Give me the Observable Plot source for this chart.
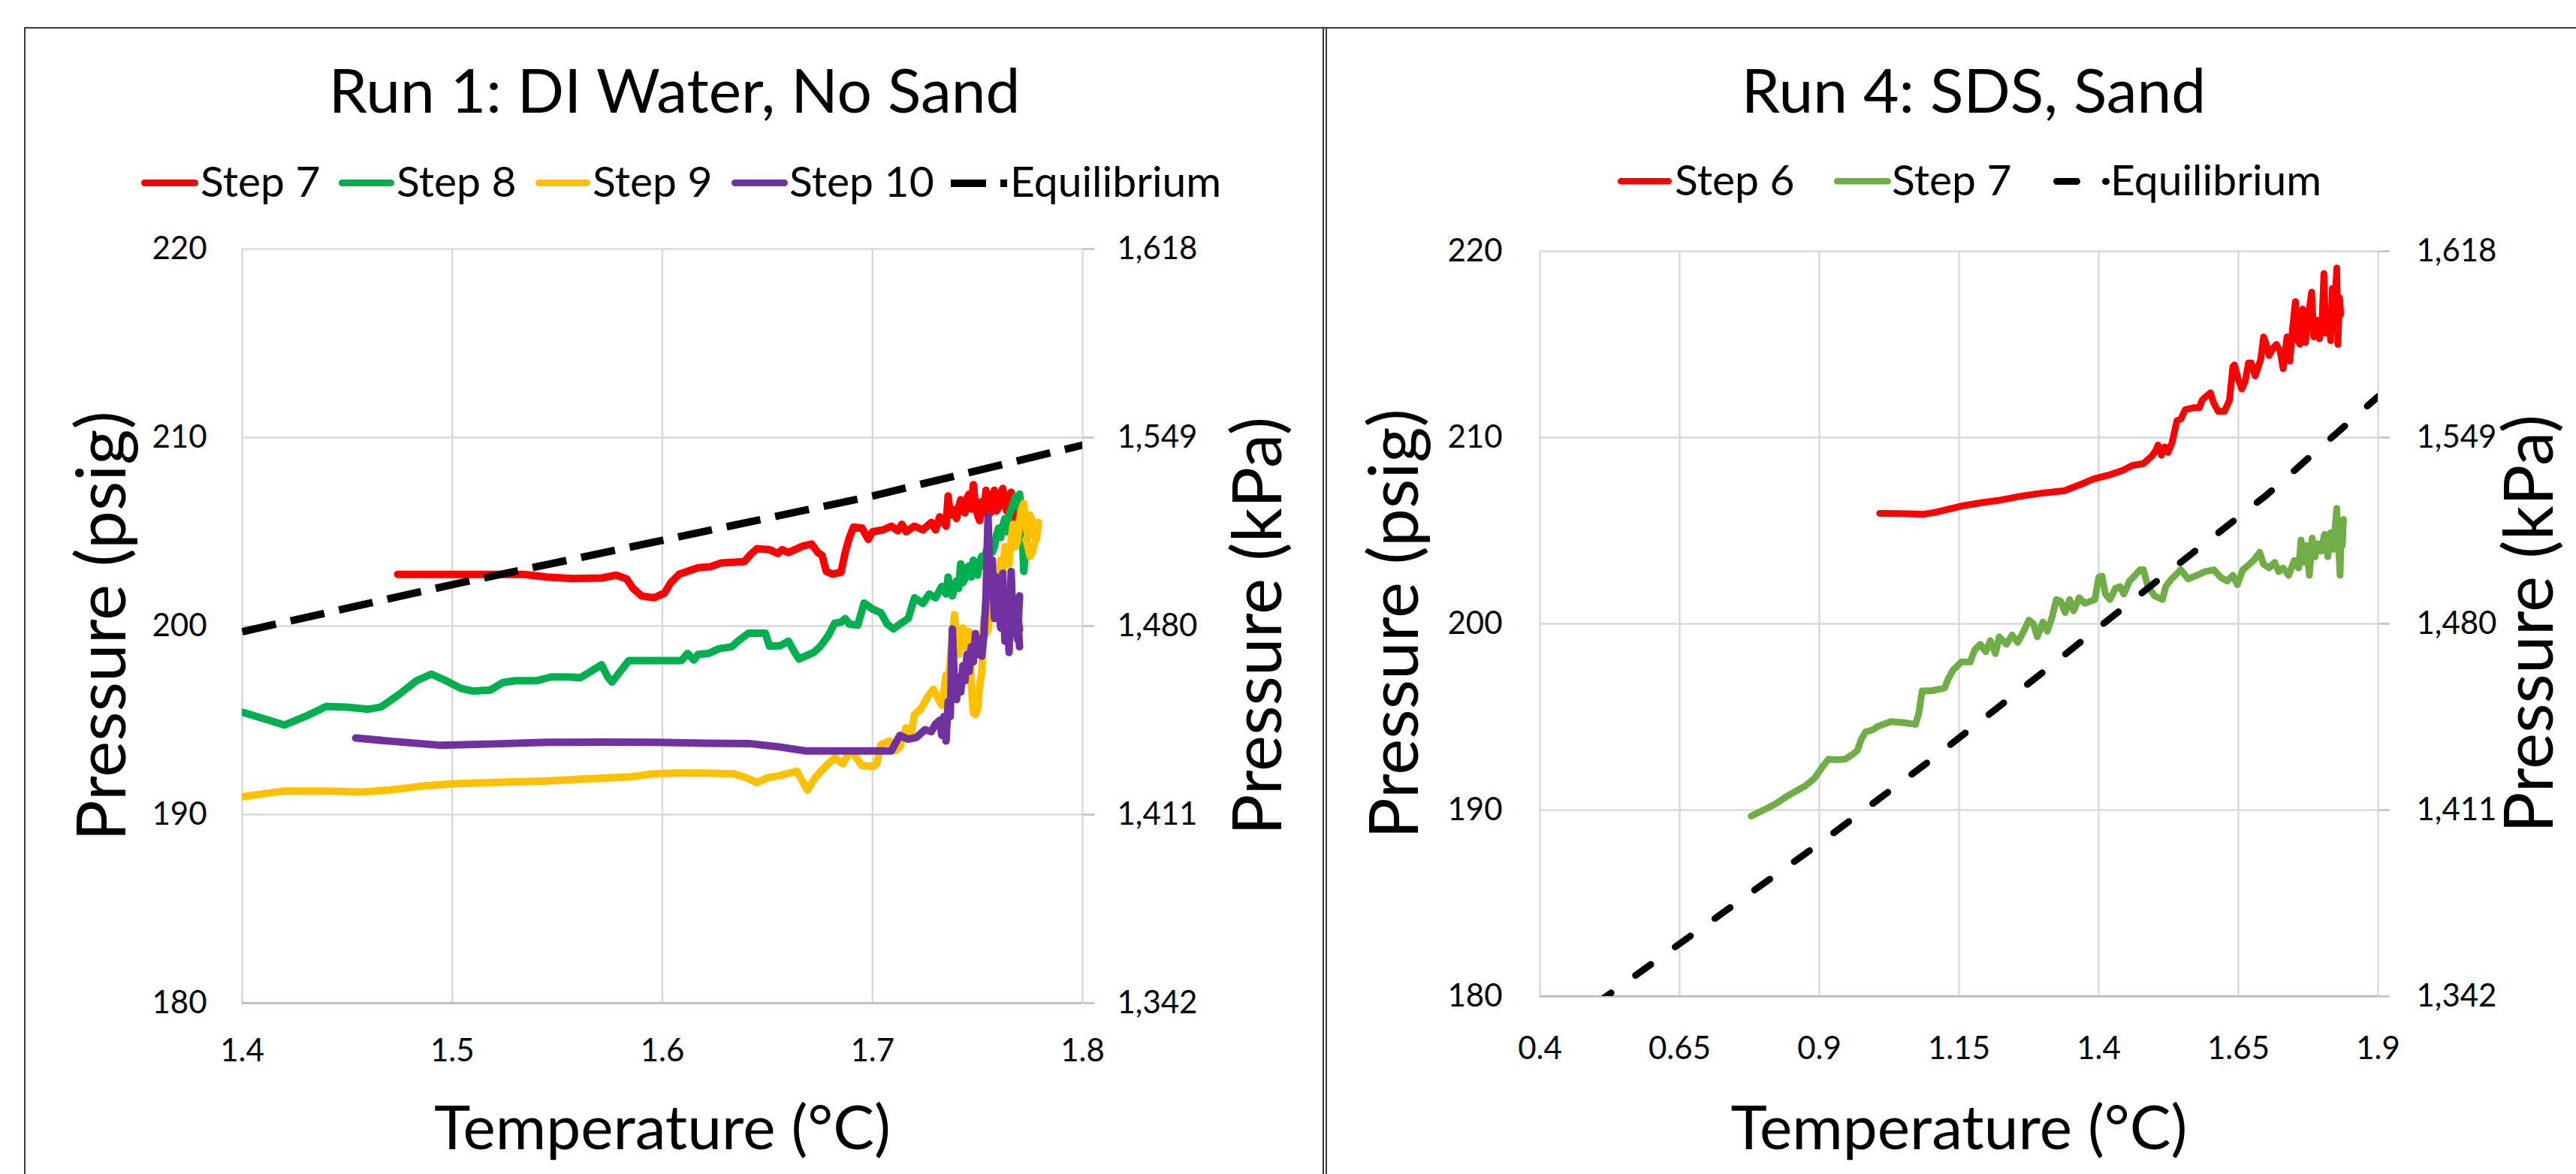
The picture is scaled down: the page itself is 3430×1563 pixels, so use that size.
<!DOCTYPE html>
<html><head><meta charset="utf-8">
<script src="https://cdn.jsdelivr.net/npm/d3@7"></script>
<script src="https://cdn.jsdelivr.net/npm/@observablehq/plot@0.6"></script>
<style>
html,body{margin:0;padding:0;background:#fff;overflow:hidden}
#root{position:relative;width:3430px;height:1563px;background:#fff;font-family:Lato,sans-serif;color:#000;overflow:hidden}
.abs{position:absolute}
.title{position:absolute;font-size:82px;line-height:1.2;white-space:nowrap;transform:translateX(-50%)}
.leg{position:absolute;font-size:57px;line-height:1.2;white-space:nowrap}
</style></head><body><div id="root"></div>
<script>
// ---------- data ----------
const psigTicks = [180, 190, 200, 210, 220];
const kpaLabels = ["1,342", "1,411", "1,480", "1,549", "1,618"];
const run1XTicks = [1.4, 1.5, 1.6, 1.7, 1.8];
const run1XLabels = ["1.4", "1.5", "1.6", "1.7", "1.8"];
const run4XTicks = [0.4, 0.65, 0.9, 1.15, 1.4, 1.65, 1.9];
const run4XLabels = ["0.4", "0.65", "0.9", "1.15", "1.4", "1.65", "1.9"];
const run1Series = ["Step 7", "Step 8", "Step 9", "Step 10", "Equilibrium"];
const run1Colors = ["#FF0000", "#00B050", "#FFC000", "#7030A0", "#000000"];
const run4Series = ["Step 6", "Step 7", "Equilibrium"];
const run4Colors = ["#FF0000", "#70AD47", "#000000"];

// Run 1 [temperature °C, pressure psig]
const run1Step7 = [[1.474,202.74],[1.500,202.74],[1.534,202.74],[1.545,202.6],[1.557,202.52],[1.571,202.55],[1.578,202.7],[1.583,202.5],[1.586,202.0],[1.590,201.6],[1.596,201.5],[1.601,201.75],[1.604,202.3],[1.608,202.75],[1.617,203.1],[1.623,203.15],[1.628,203.35],[1.639,203.42],[1.642,203.8],[1.645,204.1],[1.651,204.05],[1.655,203.85],[1.657,204.05],[1.660,203.9],[1.663,204.05],[1.667,204.25],[1.671,204.35],[1.674,203.9],[1.676,203.75],[1.678,202.9],[1.681,202.75],[1.685,202.85],[1.687,203.9],[1.689,204.7],[1.691,205.25],[1.695,205.2],[1.698,204.6],[1.700,205.0],[1.705,205.1],[1.709,205.3],[1.712,205.05],[1.714,205.4],[1.716,205.0],[1.720,205.3],[1.724,205.1],[1.728,205.5],[1.730,205.1],[1.732,205.8],[1.735,205.3],[1.736,206.9],[1.737,205.9],[1.738,206.2],[1.740,205.7],[1.741,206.3],[1.742,206.7],[1.744,206.0],[1.745,206.8],[1.746,207.0],[1.747,206.2],[1.748,207.5],[1.749,206.4],[1.750,205.9],[1.751,205.6],[1.752,206.6],[1.753,206.0],[1.754,207.2],[1.755,206.5],[1.756,206.0],[1.757,206.9],[1.758,207.2],[1.759,206.1],[1.760,206.3],[1.761,207.0],[1.762,207.3],[1.763,206.4],[1.764,206.1],[1.765,206.9],[1.766,207.1],[1.767,206.2],[1.768,206.5],[1.767,205.9],[1.766,205.5]];
const run1Step8 = [[1.400,195.43],[1.410,195.1],[1.420,194.75],[1.430,195.2],[1.440,195.74],[1.450,195.7],[1.460,195.59],[1.466,195.7],[1.475,196.4],[1.483,197.1],[1.490,197.45],[1.497,197.1],[1.504,196.7],[1.510,196.55],[1.518,196.6],[1.524,197.0],[1.530,197.1],[1.540,197.1],[1.547,197.3],[1.555,197.3],[1.561,197.26],[1.566,197.6],[1.571,197.95],[1.574,197.3],[1.576,197.03],[1.580,197.6],[1.584,198.17],[1.609,198.17],[1.612,198.55],[1.615,198.2],[1.617,198.5],[1.622,198.55],[1.627,198.8],[1.633,198.9],[1.636,199.2],[1.641,199.62],[1.649,199.62],[1.651,198.93],[1.656,198.95],[1.660,199.2],[1.663,198.6],[1.665,198.25],[1.672,198.6],[1.675,198.9],[1.679,199.5],[1.682,200.15],[1.685,200.2],[1.687,200.4],[1.689,200.1],[1.693,200.05],[1.696,201.22],[1.700,200.9],[1.704,200.7],[1.707,200.1],[1.710,199.85],[1.713,200.1],[1.717,200.4],[1.720,201.5],[1.724,201.2],[1.727,201.7],[1.730,201.5],[1.733,202.1],[1.735,201.7],[1.736,202.6],[1.737,202.0],[1.738,201.6],[1.740,202.4],[1.741,202.0],[1.742,203.3],[1.743,202.3],[1.744,202.5],[1.745,203.1],[1.746,203.2],[1.747,202.6],[1.748,203.5],[1.749,203.0],[1.750,202.7],[1.751,203.4],[1.752,203.7],[1.753,203.2],[1.754,203.9],[1.755,204.3],[1.756,204.5],[1.757,203.9],[1.758,204.2],[1.759,204.8],[1.760,205.2],[1.761,204.7],[1.762,205.3],[1.763,205.7],[1.764,205.0],[1.765,205.9],[1.766,206.2],[1.767,206.5],[1.768,206.85],[1.769,206.3],[1.770,207.0],[1.771,205.8],[1.772,202.9],[1.773,204.3],[1.774,205.2],[1.775,205.6],[1.776,204.9]];
const run1Step9 = [[1.400,190.94],[1.410,191.1],[1.420,191.25],[1.440,191.25],[1.457,191.2],[1.470,191.3],[1.485,191.5],[1.500,191.63],[1.520,191.7],[1.545,191.78],[1.565,191.9],[1.585,192.0],[1.595,192.15],[1.605,192.2],[1.620,192.2],[1.634,192.16],[1.640,191.95],[1.645,191.7],[1.650,191.95],[1.657,192.1],[1.664,192.3],[1.666,191.9],[1.669,191.3],[1.673,192.0],[1.678,192.6],[1.682,193.0],[1.686,192.7],[1.689,193.3],[1.691,193.2],[1.695,192.6],[1.700,192.55],[1.702,192.7],[1.704,193.7],[1.708,193.9],[1.711,193.4],[1.713,193.6],[1.716,194.6],[1.718,194.1],[1.720,195.3],[1.723,195.6],[1.726,196.2],[1.729,196.65],[1.731,196.2],[1.733,195.8],[1.735,197.4],[1.736,196.8],[1.737,198.2],[1.738,199.3],[1.739,200.6],[1.740,199.2],[1.741,198.5],[1.742,199.6],[1.743,199.9],[1.744,199.1],[1.745,198.8],[1.746,199.7],[1.747,197.0],[1.748,195.4],[1.749,195.3],[1.750,195.6],[1.751,196.9],[1.752,197.5],[1.753,200.4],[1.754,199.6],[1.755,199.8],[1.756,200.9],[1.757,201.5],[1.758,200.6],[1.759,200.8],[1.760,202.4],[1.761,203.5],[1.762,202.8],[1.763,204.2],[1.764,203.6],[1.765,203.3],[1.766,204.6],[1.767,205.4],[1.768,204.2],[1.769,204.5],[1.770,205.7],[1.771,206.2],[1.772,206.5],[1.773,205.3],[1.774,204.8],[1.775,205.9],[1.776,205.6],[1.777,205.1],[1.778,204.6],[1.779,205.5],[1.778,204.9],[1.777,204.3],[1.776,203.9],[1.775,203.7],[1.774,204.2],[1.773,204.6]];
const run1Step10 = [[1.454,194.06],[1.470,193.9],[1.494,193.68],[1.520,193.75],[1.545,193.83],[1.570,193.84],[1.597,193.83],[1.620,193.78],[1.642,193.76],[1.655,193.6],[1.668,193.38],[1.690,193.38],[1.709,193.38],[1.711,193.8],[1.713,194.2],[1.717,194.0],[1.721,194.1],[1.725,194.5],[1.728,194.4],[1.730,194.8],[1.732,195.0],[1.733,194.2],[1.734,195.2],[1.735,193.9],[1.736,196.0],[1.737,195.2],[1.738,199.85],[1.739,197.0],[1.740,196.1],[1.741,197.3],[1.742,196.5],[1.743,197.9],[1.744,197.1],[1.745,198.5],[1.746,197.6],[1.747,198.9],[1.748,198.1],[1.749,199.6],[1.750,198.5],[1.751,199.3],[1.752,198.4],[1.753,199.5],[1.754,201.5],[1.755,205.8],[1.756,202.0],[1.757,203.5],[1.758,200.4],[1.759,202.6],[1.760,201.8],[1.761,199.9],[1.762,202.8],[1.763,199.2],[1.764,201.7],[1.765,198.6],[1.766,202.9],[1.767,199.6],[1.768,201.3],[1.769,199.3],[1.770,201.6],[1.769,200.3],[1.770,198.9],[1.769,200.6],[1.770,199.8]];
const run1Equilibrium = [[1.4,199.7],[1.5,202.2],[1.6,204.55],[1.7,206.9],[1.8,209.6]];

// Run 4 [temperature °C, pressure psig]
const run4Step6 = [[1.008,205.93],[1.040,205.92],[1.087,205.88],[1.110,206.0],[1.154,206.32],[1.190,206.5],[1.220,206.62],[1.260,206.85],[1.295,207.0],[1.339,207.15],[1.365,207.45],[1.391,207.78],[1.420,208.0],[1.443,208.24],[1.460,208.5],[1.480,208.6],[1.495,209.0],[1.502,209.3],[1.506,209.6],[1.512,209.05],[1.518,209.5],[1.524,209.2],[1.531,209.7],[1.540,210.9],[1.547,211.0],[1.555,211.5],[1.570,211.6],[1.580,211.6],[1.585,212.0],[1.591,212.18],[1.600,212.4],[1.605,211.9],[1.614,211.4],[1.625,211.4],[1.634,212.0],[1.640,213.8],[1.643,213.9],[1.649,213.2],[1.656,212.6],[1.662,213.0],[1.668,214.0],[1.673,214.0],[1.680,213.3],[1.690,214.2],[1.695,215.4],[1.700,215.0],[1.705,214.4],[1.712,214.8],[1.718,215.0],[1.725,214.6],[1.730,213.7],[1.737,215.4],[1.742,214.1],[1.747,215.9],[1.752,217.3],[1.756,215.2],[1.760,215.0],[1.765,216.9],[1.770,215.1],[1.775,216.5],[1.781,217.8],[1.785,215.4],[1.790,216.3],[1.795,215.3],[1.800,216.5],[1.803,218.8],[1.806,215.6],[1.810,216.8],[1.815,215.2],[1.818,218.0],[1.821,216.0],[1.826,219.1],[1.828,215.0],[1.831,217.5],[1.833,216.6]];
const run4Step7 = [[0.778,189.68],[0.800,190.0],[0.820,190.3],[0.840,190.7],[0.857,191.0],[0.875,191.3],[0.891,191.7],[0.905,192.3],[0.916,192.73],[0.930,192.7],[0.946,192.73],[0.960,193.0],[0.968,193.2],[0.975,193.8],[0.983,194.2],[0.995,194.3],[1.005,194.5],[1.028,194.75],[1.050,194.7],[1.072,194.6],[1.078,195.2],[1.084,196.4],[1.100,196.4],[1.124,196.55],[1.130,197.0],[1.139,197.5],[1.154,197.95],[1.170,197.95],[1.178,198.6],[1.188,198.9],[1.198,198.5],[1.206,199.1],[1.215,198.4],[1.222,199.3],[1.235,198.9],[1.245,199.4],[1.255,199.0],[1.265,199.56],[1.275,200.2],[1.283,200.0],[1.290,199.3],[1.300,200.1],[1.308,199.6],[1.317,200.4],[1.324,201.3],[1.332,201.2],[1.340,200.6],[1.348,201.3],[1.355,200.7],[1.365,201.4],[1.375,201.1],[1.384,201.2],[1.393,201.3],[1.400,202.5],[1.406,202.56],[1.412,201.6],[1.420,201.3],[1.430,201.9],[1.438,202.0],[1.445,201.6],[1.455,202.3],[1.465,202.6],[1.474,202.9],[1.480,202.9],[1.488,202.0],[1.500,201.5],[1.514,201.3],[1.520,202.0],[1.530,202.4],[1.547,202.9],[1.560,202.4],[1.575,202.6],[1.590,202.8],[1.606,202.9],[1.618,202.5],[1.630,202.3],[1.640,202.6],[1.648,202.1],[1.658,202.9],[1.670,203.2],[1.680,203.5],[1.688,203.84],[1.695,203.2],[1.705,203.0],[1.715,203.3],[1.722,202.8],[1.730,203.0],[1.740,202.6],[1.750,203.4],[1.758,203.0],[1.762,204.5],[1.767,203.3],[1.772,204.2],[1.777,202.6],[1.782,204.6],[1.787,203.6],[1.792,204.3],[1.798,203.9],[1.804,204.8],[1.810,203.6],[1.815,204.9],[1.820,204.0],[1.826,206.2],[1.829,204.3],[1.832,202.6],[1.834,205.3],[1.836,204.2],[1.838,205.6]];
const run4Equilibrium = [[0.5,179.6],[0.7,183.9],[0.9,188.2],[1.1,192.7],[1.3,197.4],[1.5,202.2],[1.7,206.9],[1.9,212.2]];

// ---------- helpers ----------
const toRows = (pairs, series) => pairs.map(([T, P]) => ({T, P, series}));
const root = document.getElementById("root");
function addDiv(cls, text, style) {
  const d = document.createElement("div");
  d.className = cls;
  if (text) d.textContent = text;
  Object.assign(d.style, style);
  root.appendChild(d);
  return d;
}
const ns = "http://www.w3.org/2000/svg";
function swatch(x1, x2, y, color, w, cap, dash) {
  const s = document.createElementNS(ns, "svg");
  const pad = 12;
  s.setAttribute("width", x2 - x1 + 2 * pad);
  s.setAttribute("height", 2 * pad + w);
  Object.assign(s.style, {position: "absolute", left: (x1 - pad) + "px", top: (y - pad - w / 2) + "px", overflow: "visible"});
  const l = document.createElementNS(ns, "line");
  const inset = cap === "round" ? w / 2 : 0;
  l.setAttribute("x1", pad + inset);
  l.setAttribute("x2", pad + x2 - x1 - inset);
  l.setAttribute("y1", pad + w / 2);
  l.setAttribute("y2", pad + w / 2);
  l.setAttribute("stroke", color);
  l.setAttribute("stroke-width", w);
  l.setAttribute("stroke-linecap", cap);
  if (dash) l.setAttribute("stroke-dasharray", dash);
  s.appendChild(l);
  root.appendChild(s);
}

function panel(cfg) {
  const lines = cfg.series.map((pairs, i) => Plot.line(toRows(pairs, cfg.names[i]), {
    x: "T", y: "P", stroke: cfg.colors[i], strokeWidth: cfg.lw,
    strokeLinejoin: "round", strokeLinecap: "round", clip: true
  }));
  const eqName = cfg.names[cfg.names.length - 1];
  const svg = Plot.plot({
    width: cfg.width, height: 1563,
    marginLeft: cfg.ml, marginRight: cfg.mr, marginTop: cfg.mt, marginBottom: cfg.mb,
    x: {domain: cfg.xDomain},
    y: {domain: [180, 220]},
    style: {fontFamily: "Lato, sans-serif", fontSize: "42px", color: "#000", background: "transparent", overflow: "visible"},
    marks: [
      Plot.gridX(cfg.xTicks, {stroke: "#D9D9D9", strokeOpacity: 1, strokeWidth: 2.5}),
      Plot.gridY(psigTicks, {stroke: "#D9D9D9", strokeOpacity: 1, strokeWidth: 2.5}),
      Plot.ruleY([180], {stroke: "#BFBFBF", strokeWidth: 3}),
      Plot.axisX(cfg.xTicks, {tickSize: 0, tickPadding: cfg.xPad, label: null,
        tickFormat: d => cfg.xLabels[cfg.xTicks.indexOf(d)]}),
      Plot.axisY(psigTicks, {anchor: "left", tickSize: 0, tickPadding: cfg.yPad, label: null, tickFormat: d => String(d)}),
      Plot.axisY(psigTicks, {anchor: "right", tickSize: 15, tickPadding: cfg.kPad, label: null,
        stroke: "#BFBFBF", strokeWidth: 2.5,
        tickFormat: d => kpaLabels[psigTicks.indexOf(d)]}),
      ...lines,
      Plot.line(toRows(cfg.eq, eqName), {x: "T", y: "P", stroke: "#000", strokeWidth: cfg.eqW,
        strokeDasharray: cfg.eqDash, strokeLinecap: cfg.eqCap, clip: true}),
      Plot.text(["Pressure (psig)"], {text: d => d, frameAnchor: "left", dx: cfg.psigDx, rotate: -90, fontSize: 91, lineAnchor: "middle", textAnchor: "middle"}),
      Plot.text(["Pressure (kPa)"], {text: d => d, frameAnchor: "right", dx: cfg.kpaDx, rotate: -90, fontSize: 91, lineAnchor: "middle", textAnchor: "middle"}),
      Plot.text(["Temperature (\u00B0C)"], {text: d => d, frameAnchor: "bottom", dy: cfg.tDy, fontSize: 82, lineAnchor: "middle", textAnchor: "middle"})
    ]
  });
  Object.assign(svg.style, {position: "absolute", left: cfg.left + "px", top: "0px"});
  root.appendChild(svg);
}

// Run 1 panel
panel({
  left: 0, width: 1762, ml: 322, mr: 321, mt: 331, mb: 228,
  xDomain: [1.4, 1.8], xTicks: run1XTicks, xLabels: run1XLabels,
  xPad: 48, yPad: 47, kPad: 31,
  series: [run1Step7, run1Step8, run1Step9, run1Step10], names: run1Series, colors: run1Colors,
  lw: 10, eq: run1Equilibrium, eqW: 10, eqDash: "46,20", eqCap: "butt",
  psigDx: -185, kpaDx: 235, tDy: 168
});
// Run 4 panel
panel({
  left: 1768, width: 1662, ml: 282, mr: 264, mt: 334, mb: 237,
  xDomain: [0.4, 1.9], xTicks: run4XTicks, xLabels: run4XLabels,
  xPad: 54, yPad: 50, kPad: 36,
  series: [run4Step6, run4Step7], names: run4Series, colors: run4Colors,
  lw: 9, eq: run4Equilibrium, eqW: 9, eqDash: "25,40", eqCap: "round",
  psigDx: -192, kpaDx: 203, tDy: 177
});

// frame
const frameColor = "#3a3a3a";
addDiv("abs", "", {left: "32px", top: "36px", width: "3398px", height: "2px", background: frameColor});
addDiv("abs", "", {left: "32px", top: "36px", width: "2px", height: "1527px", background: frameColor});
addDiv("abs", "", {left: "1761px", top: "36px", width: "2px", height: "1527px", background: frameColor});
addDiv("abs", "", {left: "1765px", top: "36px", width: "2px", height: "1527px", background: frameColor});

// titles (baseline 150)
addDiv("title", "Run 1: DI Water, No Sand", {left: "898px", top: (150 - 0.987 * 82) + "px"});
addDiv("title", "Run 4: SDS, Sand", {left: "2628px", top: (150 - 0.987 * 82) + "px"});

// legends
const legFs = 57;
const run1Legend = [[188, 264, 267], [451, 525, 528], [713, 786, 789], [974, 1049, 1051], [1266, 1341, 1345]];
run1Series.forEach((name, i) => {
  const [a, b, t] = run1Legend[i];
  if (name === "Equilibrium") swatch(a, b, 243.5, "#000", 10, "butt", "47,19");
  else swatch(a, b, 243.5, run1Colors[i], 9, "round");
  addDiv("leg", name, {left: t + "px", top: (262 - 0.987 * legFs) + "px"});
});
const run4Legend = [[2154, 2226, 2230], [2442, 2518, 2519], [2734, 2809, 2810]];
run4Series.forEach((name, i) => {
  const [a, b, t] = run4Legend[i];
  if (name === "Equilibrium") swatch(a, b, 241, "#000", 9, "round", "27,38");
  else swatch(a, b, 241, run4Colors[i], 8.5, "round");
  addDiv("leg", name, {left: t + "px", top: (260 - 0.987 * legFs) + "px"});
});
</script></body></html>
